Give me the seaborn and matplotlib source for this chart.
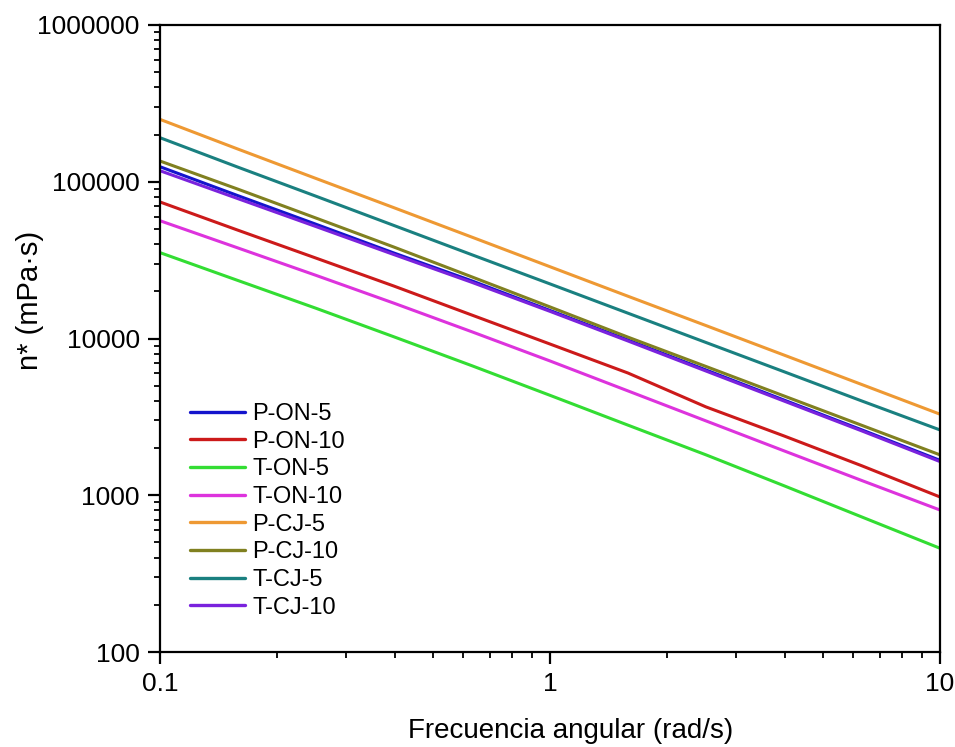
import numpy as np
import pandas as pd
import matplotlib
matplotlib.use("Agg")
import matplotlib.pyplot as plt
import seaborn as sns
from matplotlib.ticker import FixedLocator, FixedFormatter, LogLocator, NullFormatter

# ---- data ----
freq = [0.1, 0.158, 0.251, 0.398, 0.631, 1.0, 1.585, 2.512, 3.981, 6.31, 10.0]

p_on_5  = [124700, 81700, 53600, 35100, 23300, 15100, 9780, 6300, 4050, 2610, 1670]
p_on_10 = [74300, 49200, 32600, 21600, 14100, 9220, 6020, 3660, 2390, 1540, 975]
t_on_5  = [35300, 23500, 15600, 10250, 6700, 4340, 2800, 1810, 1150, 726, 459]
t_on_10 = [56400, 37900, 25300, 16800, 11030, 7190, 4630, 2980, 1920, 1240, 805]
p_cj_5  = [250000, 162000, 105000, 68300, 44300, 28700, 18600, 12090, 7840, 5080, 3290]
p_cj_10 = [135600, 89900, 58700, 38300, 24700, 15900, 10200, 6630, 4300, 2790, 1810]
t_cj_5  = [191000, 124200, 80900, 52600, 34200, 22300, 14500, 9430, 6140, 3990, 2610]
t_cj_10 = [117600, 78200, 51800, 34300, 22800, 14900, 9640, 6200, 3990, 2570, 1640]

series_names = ["P-ON-5", "P-ON-10", "T-ON-5", "T-ON-10",
                "P-CJ-5", "P-CJ-10", "T-CJ-5", "T-CJ-10"]
series_values = [p_on_5, p_on_10, t_on_5, t_on_10, p_cj_5, p_cj_10, t_cj_5, t_cj_10]
colors = ["#1414cc", "#cc1a1a", "#33dd33", "#dd33dd",
          "#ee9933", "#808020", "#1a8080", "#7a22dd"]

y_ticks = [100, 1000, 10000, 100000, 1000000]
y_ticklabels = ["100", "1000", "10000", "100000", "1000000"]
x_ticks = [0.1, 1, 10]
x_ticklabels = ["0.1", "1", "10"]

rows = []
for name, vals in zip(series_names, series_values):
    for f, v in zip(freq, vals):
        rows.append({"freq": f, "eta": v, "sample": name})
df = pd.DataFrame(rows)

# ---- styling ----
sns.set_theme(style="ticks")
plt.rcParams["font.family"] = ["Liberation Sans", "DejaVu Sans"]
plt.rcParams["text.color"] = "black"

fig = plt.figure(figsize=(9.55, 7.47), dpi=100)
ax = fig.add_axes([160 / 955, 1 - 652 / 747, 780 / 955, 627 / 747])

palette = dict(zip(series_names, colors))
sns.lineplot(data=df, x="freq", y="eta", hue="sample", hue_order=series_names,
             palette=palette, linewidth=2.2, ax=ax, legend=True)

ax.set_xscale("log")
ax.set_yscale("log")
ax.set_xlim(0.1, 10)
ax.set_ylim(100, 1000000)

ax.xaxis.set_major_locator(FixedLocator(x_ticks))
ax.xaxis.set_major_formatter(FixedFormatter(x_ticklabels))
ax.xaxis.set_minor_locator(LogLocator(base=10, subs=np.arange(2, 10)))
ax.xaxis.set_minor_formatter(NullFormatter())
ax.yaxis.set_major_locator(FixedLocator(y_ticks))
ax.yaxis.set_major_formatter(FixedFormatter(y_ticklabels))
ax.yaxis.set_minor_locator(LogLocator(base=10, subs=np.arange(2, 10)))
ax.yaxis.set_minor_formatter(NullFormatter())

for s in ax.spines.values():
    s.set_visible(True)
    s.set_linewidth(1.6)
    s.set_color("black")

ax.tick_params(axis="both", which="major", direction="out", length=8.5, width=1.6,
               labelsize=19, colors="black", pad=6)
ax.tick_params(axis="both", which="minor", direction="out", length=4.5, width=1.3,
               colors="black")
ax.tick_params(top=False, right=False, which="both")

ax.set_xlabel("Frecuencia angular (rad/s)", fontsize=20, color="black")
ax.xaxis.set_label_coords((571 - 160) / 780, -0.106)
ax.set_ylabel("n* (mPa·s)", fontsize=21, color="black")
ax.yaxis.set_label_coords(-0.149, (652 - 300) / 627)

leg = ax.legend(loc="upper left", bbox_to_anchor=(30 / 780, (652 - 403) / 627),
                frameon=False, fontsize=17, handlelength=2.35, handletextpad=0.3,
                labelspacing=0.24, borderpad=0, borderaxespad=0)
for line in leg.get_lines():
    line.set_linewidth(2.4)
for t in leg.get_texts():
    t.set_color("black")

ax.set_facecolor("white")
fig.patch.set_facecolor("white")
fig.savefig("out.png", dpi=100, facecolor="white")
